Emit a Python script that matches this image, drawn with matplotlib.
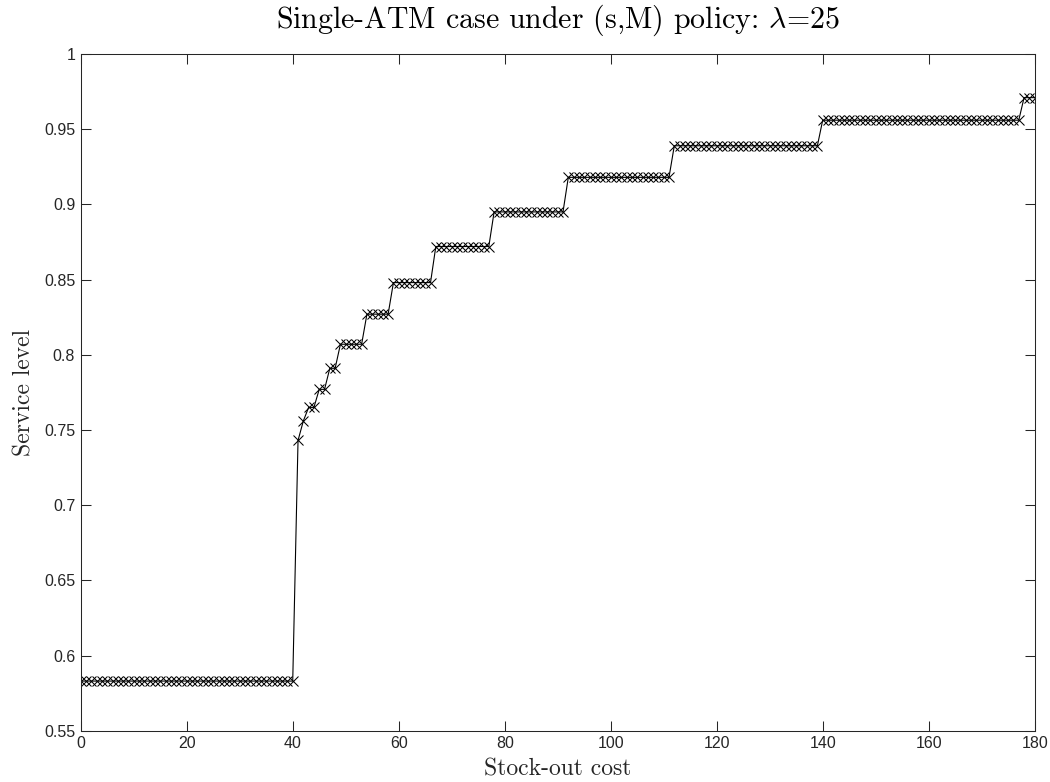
import numpy as np
import matplotlib
matplotlib.use("Agg")
import matplotlib.pyplot as plt

# stock-out cost (integer grid) and service level
cost = np.arange(0, 181)
levels = [0.583, 0.743, 0.756, 0.765, 0.777, 0.791, 0.807, 0.827,
          0.848, 0.872, 0.895, 0.918, 0.939, 0.956, 0.971]
counts = [41, 1, 1, 2, 2, 2, 5, 5, 8, 11, 14, 20, 28, 38, 3]
service = np.repeat(levels, counts)

xticks = list(range(0, 181, 20))
yticks = [0.55, 0.6, 0.65, 0.7, 0.75, 0.8, 0.85, 0.9, 0.95, 1]
yticklabels = ["0.55", "0.6", "0.65", "0.7", "0.75", "0.8", "0.85", "0.9", "0.95", "1"]

plt.rcParams["mathtext.fontset"] = "cm"
plt.rcParams["axes.formatter.use_mathtext"] = True

fig = plt.figure(figsize=(10.5, 7.82), dpi=100)
ax = fig.add_axes([0.0769, 0.0656, 0.9085, 0.8653])

ax.plot(cost, service, color="black", linewidth=0.8, marker="x",
        markersize=6.8, markeredgewidth=0.75)

ax.set_xlim(0, 180)
ax.set_ylim(0.55, 1)
ax.set_xticks(xticks)
ax.set_xticklabels([str(t) for t in xticks])
ax.set_yticks(yticks)
ax.set_yticklabels(yticklabels)

for lab in ax.get_xticklabels() + ax.get_yticklabels():
    lab.set_family("Liberation Sans")
    lab.set_fontsize(11.5)
    lab.set_color("#262626")

ax.tick_params(direction="in", length=7, width=0.75, colors="#262626",
               top=True, right=True, pad=4)
for s in ax.spines.values():
    s.set_linewidth(0.75)
    s.set_color("#262626")

ax.set_title(r"Single-ATM case under (s,M) policy: $\lambda$=25",
             family="cmr10", fontsize=21.5, pad=19)
ax.set_xlabel("Stock-out cost", family="cmr10", fontsize=17, labelpad=5,
              color="#262626")
ax.set_ylabel("Service level", family="cmr10", fontsize=17, labelpad=6,
              color="#262626")

fig.savefig("out.png", dpi=100, facecolor="white")
